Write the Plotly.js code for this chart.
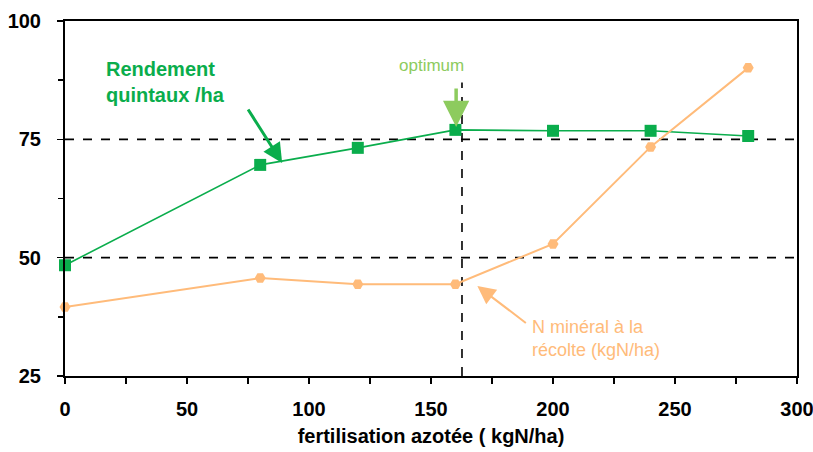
<!DOCTYPE html>
<html><head><meta charset="utf-8">
<script src="https://cdn.plot.ly/plotly-3.0.1.min.js"></script>
<style>html,body{margin:0;padding:0;background:#fff}#chart{width:813px;height:452px}</style>
</head><body><div id="chart"></div>
<script>
const doses = [0, 80, 120, 160, 200, 240, 280];
const rendement = [48.4, 69.6, 73.2, 77.0, 76.8, 76.8, 75.7];
const nMineral = [39.6, 45.7, 44.4, 44.4, 52.9, 73.4, 90.1];
const refLevels = [75, 50];
const optimumX = 162.7;
const yTicks = [25, 50, 75, 100];
const xTicks = [0, 50, 100, 150, 200, 250, 300];

const GREEN = '#0aad4c', ORANGE = '#ffbb7a', LIGHTGREEN = '#8dcb5e';
const FONT = '"Liberation Sans", Arial, sans-serif';
const AFONT = '"Liberation Sans", Arial, sans-serif';

const traces = [
  {x: doses, y: rendement, type: 'scatter', mode: 'lines+markers', cliponaxis: false,
   line: {color: GREEN, width: 1.6}, marker: {symbol: 'square', size: 12, color: GREEN}},
  {x: doses, y: nMineral, type: 'scatter', mode: 'lines+markers', cliponaxis: false,
   line: {color: ORANGE, width: 2}, marker: {symbol: 'hexagon2', size: 11, color: ORANGE}}
];

const shapes = refLevels.map(v => ({type: 'line', xref: 'x', yref: 'y', x0: 0, x1: 300, y0: v, y1: v,
  line: {color: '#000', width: 1.6, dash: 'dash'}, layer: 'below'}));
shapes.push({type: 'line', xref: 'x', yref: 'y', x0: optimumX, x1: optimumX, y0: 25, y1: 87,
  line: {color: '#000', width: 1.6, dash: 'dash'}, layer: 'below'});

const annotations = [
  {x: 16, y: 87.2, xref: 'x', yref: 'y', text: '<b>Rendement<br>quintaux /ha</b>', showarrow: false,
   align: 'left', xanchor: 'left', font: {family: AFONT, size: 20, color: GREEN}},
  {x: 89, y: 70.0, xref: 'x', yref: 'y', text: '', showarrow: true, ax: -35, ay: -55,
   arrowcolor: GREEN, arrowwidth: 3, arrowhead: 2, arrowsize: 1.3},
  {x: 150, y: 90.7, xref: 'x', yref: 'y', text: 'optimum', showarrow: false,
   font: {family: AFONT, size: 17, color: LIGHTGREEN}},
  {x: 160.3, y: 77.6, xref: 'x', yref: 'y', text: '', showarrow: true, ax: 0, ay: -40,
   arrowcolor: LIGHTGREEN, arrowwidth: 3.5, arrowhead: 2, arrowsize: 1.5},
  {x: 190.5, y: 33.0, xref: 'x', yref: 'y', text: 'N minéral à la<br>récolte (kgN/ha)', showarrow: false,
   align: 'left', xanchor: 'left', font: {family: AFONT, size: 18, color: ORANGE}},
  {x: 169, y: 44.0, xref: 'x', yref: 'y', text: '', showarrow: true, ax: 50, ay: 38,
   arrowcolor: ORANGE, arrowwidth: 2, arrowhead: 2, arrowsize: 1.8}
];

const layout = {
  width: 813, height: 452,
  margin: {l: 65, r: 16, t: 21, b: 76},
  paper_bgcolor: '#fff', plot_bgcolor: '#fff',
  showlegend: false,
  font: {family: FONT, color: '#000'},
  xaxis: {range: [0, 300], tickvals: xTicks, ticktext: xTicks.map(String), ticklabeloverflow: 'allow',
    ticklabelstandoff: 8,
    showgrid: false, zeroline: false, showline: true, linecolor: '#000', linewidth: 2, mirror: true,
    ticks: 'outside', ticklen: 6, tickwidth: 1.5, tickcolor: '#000',
    minor: {dtick: 25, ticks: 'outside', ticklen: 6, tickwidth: 1.5, tickcolor: '#000', showgrid: false},
    tickfont: {family: FONT, size: 20, weight: 'bold', color: '#000'},
    title: {text: 'fertilisation azotée ( kgN/ha)', standoff: 10,
      font: {family: FONT, size: 20, weight: 'bold', color: '#000'}}},
  yaxis: {range: [25, 100], tickvals: yTicks, ticktext: yTicks.map(String), ticklabeloverflow: 'allow',
    ticklabelstandoff: 12,
    showgrid: false, zeroline: false, showline: true, linecolor: '#000', linewidth: 2, mirror: true,
    ticks: 'outside', ticklen: 6, tickwidth: 1.5, tickcolor: '#000',
    minor: {dtick: 12.5, ticks: 'outside', ticklen: 5, tickwidth: 1.5, tickcolor: '#000', showgrid: false},
    tickfont: {family: FONT, size: 20, weight: 'bold', color: '#000'}},
  shapes: shapes,
  annotations: annotations
};

Plotly.newPlot('chart', traces, layout, {displayModeBar: false, staticPlot: true});
</script></body></html>
